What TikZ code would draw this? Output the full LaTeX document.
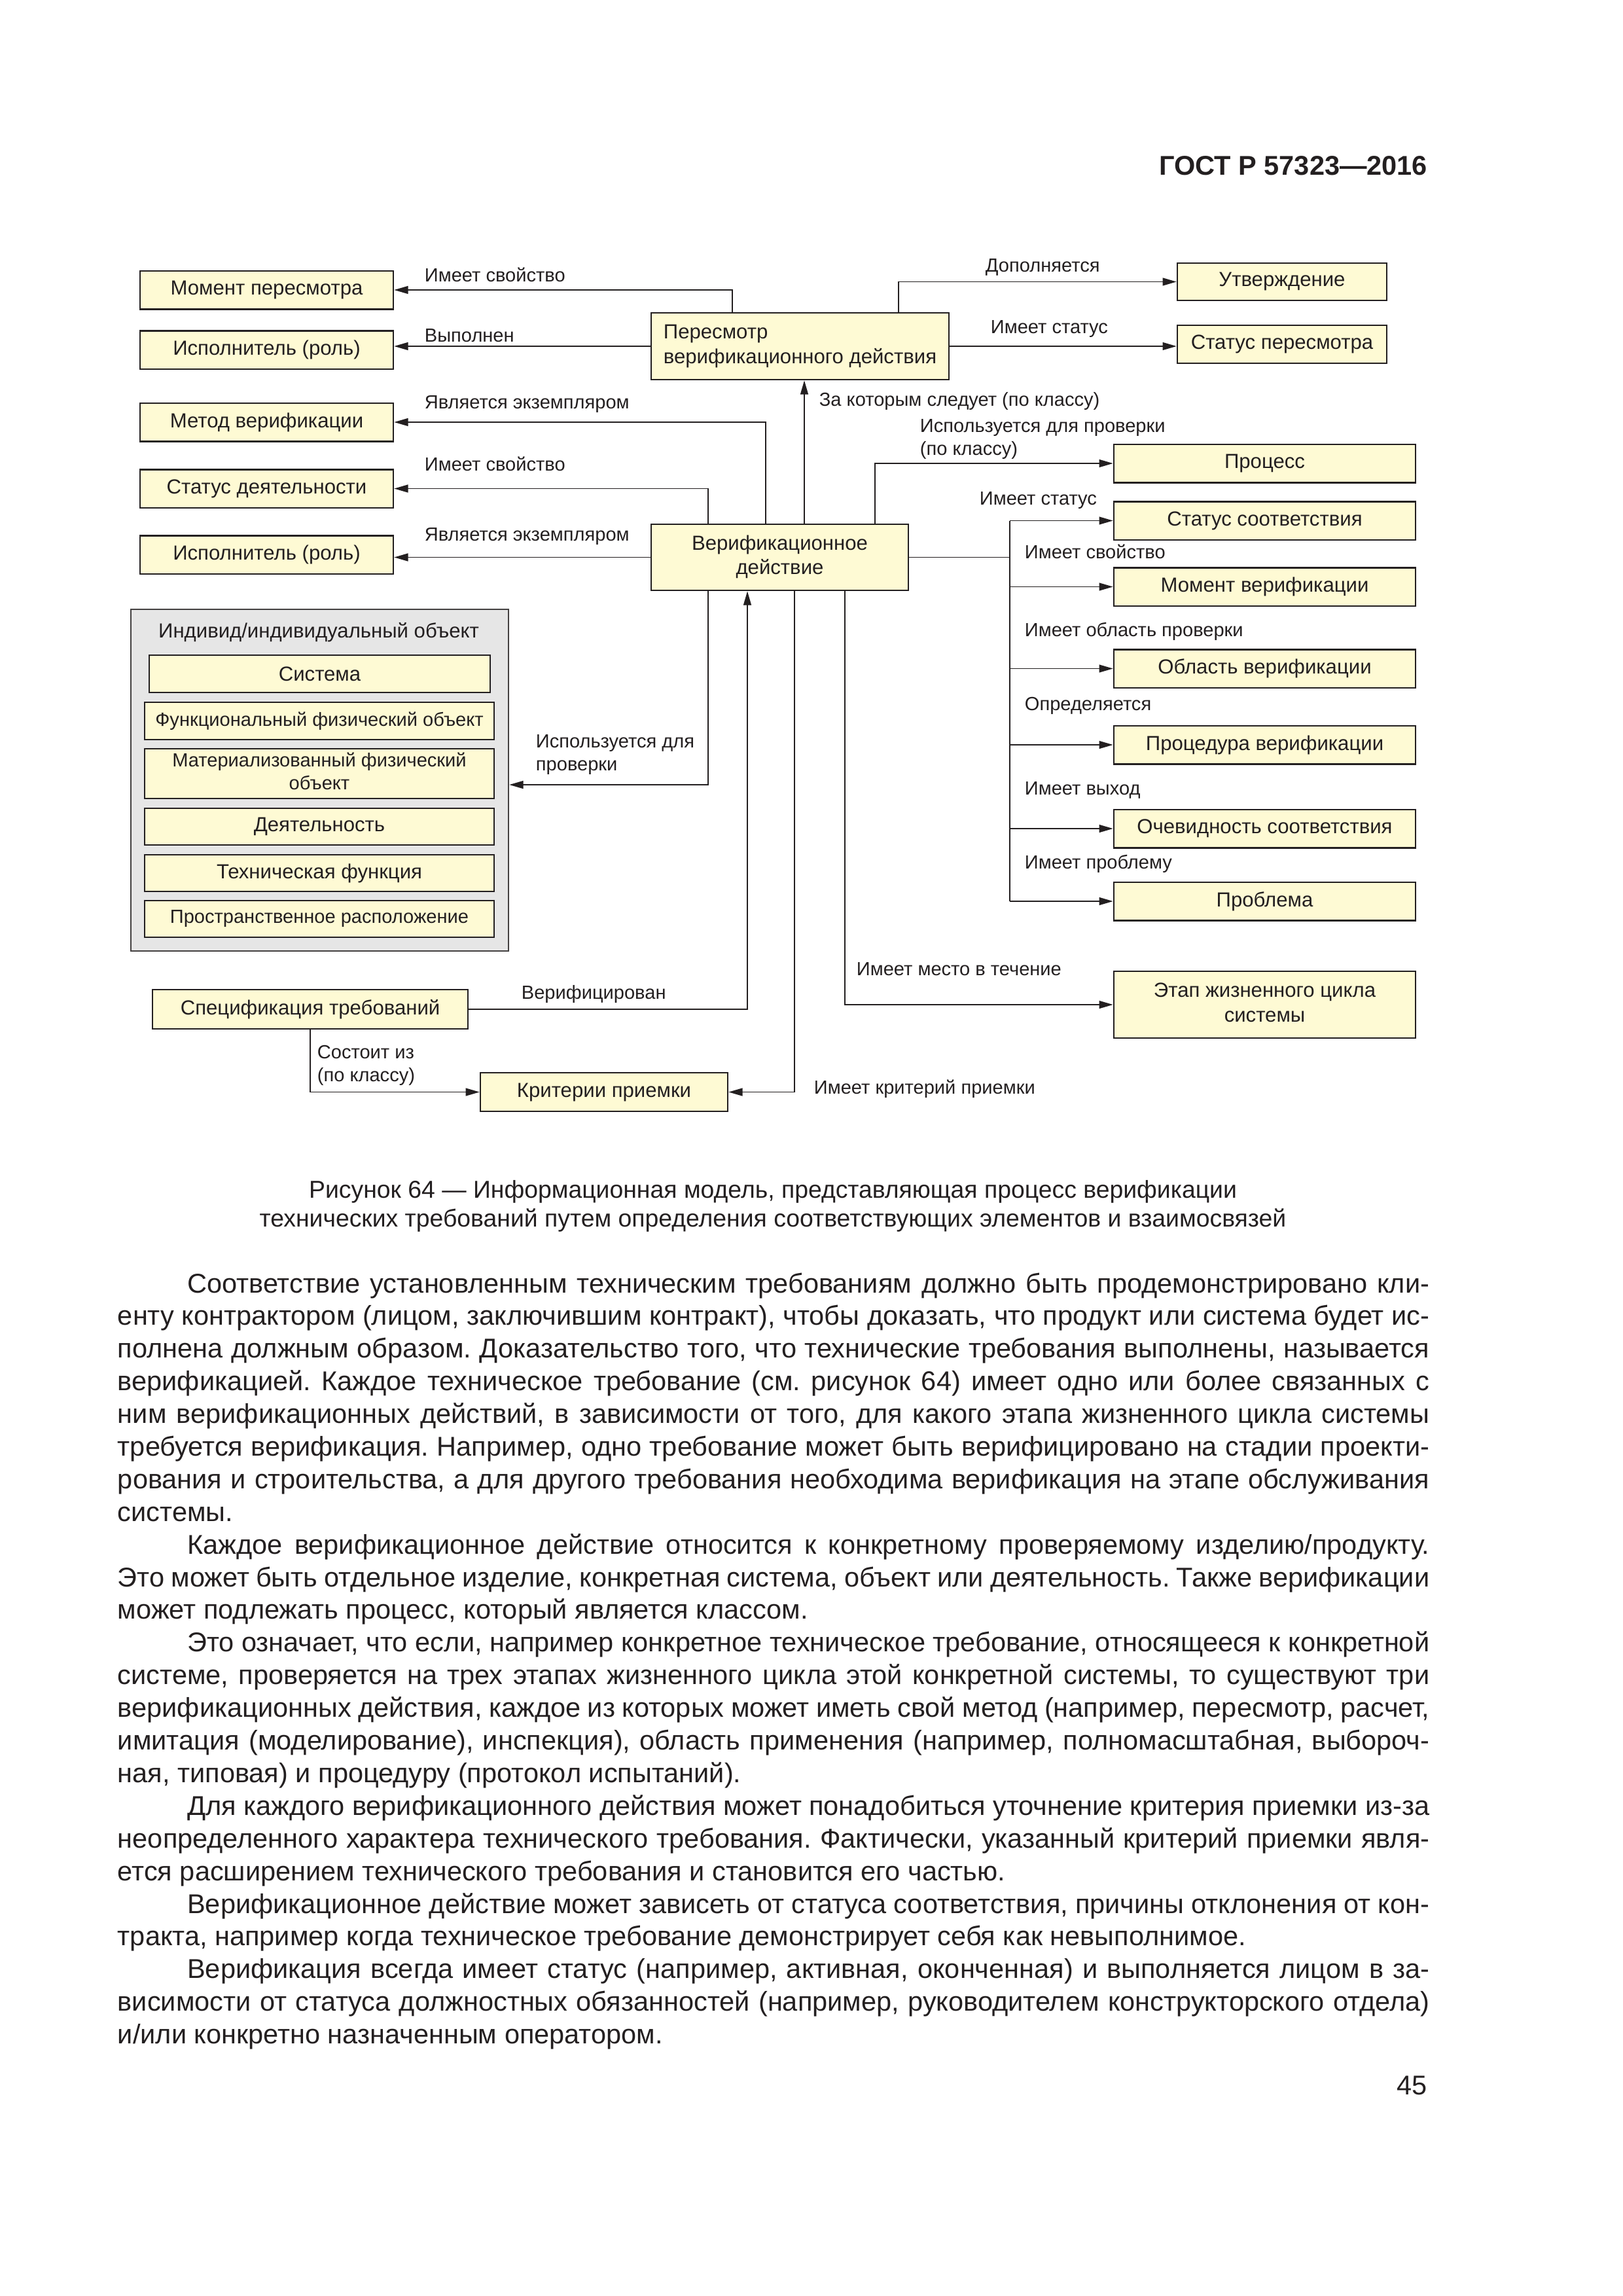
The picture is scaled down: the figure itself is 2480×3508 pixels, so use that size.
\documentclass[tikz,border=0pt]{standalone}
\usepackage{fontspec}
\setmainfont{Liberation Sans}
\usepackage{xcolor}
\usepackage{tikz}
\usetikzlibrary{arrows.meta}
\definecolor{Ink}{HTML}{231F20}
\definecolor{BoxYellow}{HTML}{FEFAD4}
\definecolor{GroupGrey}{HTML}{E6E6E6}
\frenchspacing
\newcommand\pxw{0.0846774mm}
\newcommand\boxfont{\fontsize{7.5}{9}\selectfont}
\newcommand\smallboxfont{\fontsize{7}{8.4}\selectfont}
\newcommand\linkfont{\fontsize{7}{8.4}\selectfont}
\newcommand\bodyfont{\fontsize{10}{12.02}\selectfont}
\newcommand\capfont{\fontsize{9}{10.6}\selectfont}
\newcommand\boxlines[2]{\begin{tabular}{@{}c@{}}#1\\#2\end{tabular}}
\tikzset{
  every picture/.style={line width=0.45pt},
  boxsize/.style 2 args={minimum width=#1*\pxw, minimum height=#2*\pxw},
  itembox/.style={
    draw=Ink,
    line width=0.6pt,
    fill=BoxYellow,
    inner sep=0pt,
    text=Ink,
    font=\boxfont
  },
  leftbox/.style={itembox, boxsize={387}{58.5}},
  rightbox/.style={itembox, boxsize={461}{58.5}},
  innerbox/.style={itembox, boxsize={534}{56}},
  smallbox/.style={innerbox, font=\smallboxfont},
  groupbox/.style={draw=Ink!85, line width=0.6pt, fill=GroupGrey, inner sep=0pt},
  linkarrow/.style={-{Triangle[length=1.8mm,width=1mm]}, draw=Ink},
  linkline/.style={draw=Ink},
  linklabel/.style={font=\linkfont, anchor=base west, inner sep=0pt, align=left, text=Ink},
  pagetext/.style={inner sep=0pt, text=Ink}
}

\begin{document}
\begin{tikzpicture}[x=0.0846774mm, y=-0.0846774mm]
  \useasboundingbox (0,0) rectangle (2480,3508);

  \node[pagetext, anchor=base east, font=\fontsize{10}{12}\selectfont\bfseries] (gost) at (2182,267) {ГОСТ Р 57323—2016};

  \node[leftbox] (mp) at (407.5,443) {Момент пересмотра};
  \node[leftbox] (isp1) at (407.5,534.5) {Исполнитель (роль)};
  \node[leftbox] (met) at (407.5,645) {Метод верификации};
  \node[leftbox] (std) at (407.5,746.5) {Статус деятельности};
  \node[leftbox] (isp2) at (407.5,847.5) {Исполнитель (роль)};

  \node[itembox, boxsize={455}{102}] (rev) at (1222.5,529) {\begin{tabular}{@{}l@{}}Пересмотр\\верификационного действия\end{tabular}};
  \node[itembox, boxsize={320}{57}] (utv) at (1959,430.5) {Утверждение};
  \node[itembox, boxsize={320}{58}] (stp) at (1959,526) {Статус пересмотра};
  \node[itembox, boxsize={393}{101}] (va) at (1191.5,851.5) {\boxlines{Верификационное}{действие}};

  \node[rightbox] (proc) at (1932.5,708) {Процесс};
  \node[rightbox] (sts) at (1932.5,795.5) {Статус соответствия};
  \node[rightbox] (mv) at (1932.5,896.5) {Момент верификации};
  \node[rightbox] (ov) at (1932.5,1021.5) {Область верификации};
  \node[rightbox] (pv) at (1932.5,1138) {Процедура верификации};
  \node[rightbox] (och) at (1932.5,1266) {Очевидность соответствия};
  \node[rightbox] (prb) at (1932.5,1377) {Проблема};
  \node[itembox, boxsize={461}{102}] (etap) at (1932.5,1535) {\boxlines{Этап жизненного цикла}{системы}};

  \node[groupbox, boxsize={577}{522}] (ind) at (488.5,1192) {};
  \node[pagetext, font=\boxfont] (indtitle) at (487,966) {Индивид/индивидуальный объект};
  \node[itembox, boxsize={521}{57}] (sys) at (488.5,1029.5) {Система};
  \node[smallbox, boxsize={534}{57}] (fun) at (488,1101.5) {Функциональный физический объект};
  \node[smallbox, boxsize={534}{76}] (mat) at (488,1182) {\boxlines{Материализованный физический}{объект}};
  \node[innerbox] (dey) at (488,1263) {Деятельность};
  \node[innerbox] (teh) at (488,1334) {Техническая функция};
  \node[smallbox] (prs) at (488,1404) {Пространственное расположение};

  \node[itembox, boxsize={482}{60}] (spec) at (474,1542) {Спецификация требований};
  \node[itembox, boxsize={378}{59}] (krit) at (923,1668.5) {Критерии приемки};

  \coordinate (xa) at (1119,0);
  \coordinate (xb) at (1373,0);
  \coordinate (xc) at (1229,0);
  \coordinate (xd) at (1170,0);
  \coordinate (xe) at (1082,0);
  \coordinate (xf) at (1337,0);
  \coordinate (xg) at (1142,0);
  \coordinate (xh) at (1214,0);
  \coordinate (xi) at (1291,0);
  \coordinate (bus) at (1543,0);
  \coordinate (yuse) at (0,1199);

  \draw[linkarrow] (rev.north -| xa) |- (mp.east);
  \draw[linkarrow] (rev.west) -- (rev.west -| isp1.east);
  \draw[linkarrow] (rev.north -| xb) |- (utv.west);
  \draw[linkarrow] (rev.east) -- (rev.east -| stp.west);
  \draw[linkarrow] (va.north -| xc) -- (rev.south -| xc);
  \draw[linkarrow] (va.north -| xd) |- (met.east);
  \draw[linkarrow] (va.north -| xe) |- (std.east);
  \draw[linkarrow] (va.west) -- (va.west -| isp2.east);
  \draw[linkarrow] (va.north -| xf) |- (proc.west);
  \draw[linkline] (va.east) -- (va.east -| bus);
  \draw[linkline] (bus |- sts.west) -- (bus |- prb.west);
  \foreach \t in {sts,mv,ov,pv,och,prb}
    \draw[linkarrow] (bus |- \t.west) -- (\t.west);
  \draw[linkarrow] (va.south -| xe) |- (ind.east |- yuse);
  \draw[linkarrow] (spec.east) -| (va.south -| xg);
  \draw[linkarrow] (va.south -| xh) |- (krit.east);
  \draw[linkarrow] (va.south -| xi) |- (etap.west);
  \draw[linkarrow] (spec.south) |- (krit.west);

  \node[linklabel] (l1) at (648,430) {Имеет свойство};
  \node[linklabel] (l2) at (648,522) {Выполнен};
  \node[linklabel] (l3) at (648,624) {Является экземпляром};
  \node[linklabel] (l4) at (648,719) {Имеет свойство};
  \node[linklabel] (l5) at (648,826) {Является экземпляром};
  \node[linklabel] (l6) at (1505,415) {Дополняется};
  \node[linklabel] (l7) at (1513,509) {Имеет статус};
  \node[linklabel] (l8) at (1251,620) {За которым следует (по классу)};
  \node[linklabel] (l9) at (1405,695) {Используется для проверки\\(по классу)};
  \node[linklabel] (l10) at (1496,771) {Имеет статус};
  \node[linklabel] (l11) at (1565,853) {Имеет свойство};
  \node[linklabel] (l12) at (1565,972) {Имеет область проверки};
  \node[linklabel] (l13) at (1565,1085) {Определяется};
  \node[linklabel] (l14) at (1565,1214) {Имеет выход};
  \node[linklabel] (l15) at (1565,1327) {Имеет проблему};
  \node[linklabel] (l16) at (818,1177) {Используется для\\проверки};
  \node[linklabel] (l17) at (796,1526) {Верифицирован};
  \node[linklabel] (l18) at (1308,1490) {Имеет место в течение};
  \node[linklabel] (l19) at (484,1652) {Состоит из\\(по классу)};
  \node[linklabel] (l20) at (1243,1671) {Имеет критерий приемки};

  \node[pagetext, anchor=base] (caption) at (1181,1830) {\parbox[t]{170mm}{\centering\capfont
    Рисунок 64 — Информационная модель, представляющая процесс верификации\\
    технических требований путем определения соответствующих элементов и взаимосвязей}};

  \node[pagetext, anchor=base west] (body) at (179,1975) {\parbox[t]{169.7mm}{\bodyfont
    \setlength\parindent{9mm}\setlength\parskip{0pt}\tolerance=9999\emergencystretch=0pt
    Соответствие установленным техническим требованиям должно быть продемонстрировано кли-\linebreak
    енту контрактором (лицом, заключившим контракт), чтобы доказать, что продукт или система будет ис-\linebreak
    полнена должным образом. Доказательство того, что технические требования выполнены, называется\linebreak
    верификацией. Каждое техническое требование (см. рисунок 64) имеет одно или более связанных с\linebreak
    ним верификационных действий, в зависимости от того, для какого этапа жизненного цикла системы\linebreak
    требуется верификация. Например, одно требование может быть верифицировано на стадии проекти-\linebreak
    рования и строительства, а для другого требования необходима верификация на этапе обслуживания\linebreak
    системы.\par
    Каждое верификационное действие относится к конкретному проверяемому изделию/продукту.\linebreak
    Это может быть отдельное изделие, конкретная система, объект или деятельность. Также верификации\linebreak
    может подлежать процесс, который является классом.\par
    Это означает, что если, например конкретное техническое требование, относящееся к конкретной\linebreak
    системе, проверяется на трех этапах жизненного цикла этой конкретной системы, то существуют три\linebreak
    верификационных действия, каждое из которых может иметь свой метод (например, пересмотр, расчет,\linebreak
    имитация (моделирование), инспекция), область применения (например, полномасштабная, выбороч-\linebreak
    ная, типовая) и процедуру (протокол испытаний).\par
    Для каждого верификационного действия может понадобиться уточнение критерия приемки из-за\linebreak
    неопределенного характера технического требования. Фактически, указанный критерий приемки явля-\linebreak
    ется расширением технического требования и становится его частью.\par
    Верификационное действие может зависеть от статуса соответствия, причины отклонения от кон-\linebreak
    тракта, например когда техническое требование демонстрирует себя как невыполнимое.\par
    Верификация всегда имеет статус (например, активная, оконченная) и выполняется лицом в за-\linebreak
    висимости от статуса должностных обязанностей (например, руководителем конструкторского отдела)\linebreak
    и/или конкретно назначенным оператором.}};

  \node[pagetext, anchor=base east, font=\fontsize{10}{12}\selectfont] (pagenum) at (2182,3200) {45};
\end{tikzpicture}
\end{document}
